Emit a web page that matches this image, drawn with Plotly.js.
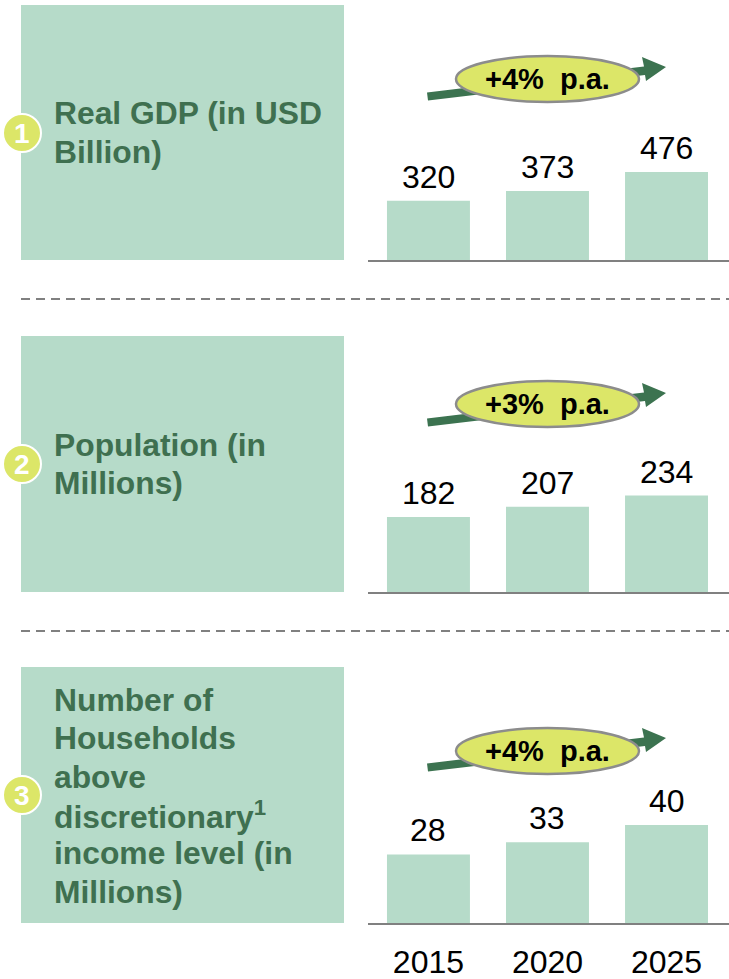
<!DOCTYPE html>
<html>
<head>
<meta charset="utf-8">
<script src="https://cdn.plot.ly/plotly-3.0.1.min.js"></script>
<style>html,body{margin:0;padding:0;background:#fff}#chart{width:729px;height:979px}</style>
</head>
<body>
<div id="chart"></div>
<script>
// Series values
const years = ['2015', '2020', '2025'];
const gdpValues = [320, 373, 476];
const populationValues = [182, 207, 234];
const householdValues = [28, 33, 40];

// Panel text
const gdpLines = ['Real GDP (in USD', 'Billion)'];
const populationLines = ['Population (in', 'Millions)'];
const householdLines = ['Number of', 'Households', 'above', 'discretionary<sup>1</sup>', 'income level (in', 'Millions)'];
const growthLabels = ['+4%  p.a.', '+3%  p.a.', '+4%  p.a.'];
const panelNumbers = ['1', '2', '3'];

// Page geometry in pixels
const W = 729, H = 979;
const GREEN_LIGHT = '#B6DBC9', GREEN_DARK = '#3F7050', ARROW = '#3C7350', LIME = '#DCE668', GREY = '#808080';
const FONT = '"Liberation Sans", Arial, sans-serif';
const px = x => x / W;
const py = y => 1 - y / H;

const panels = [
  {values: gdpValues,        lines: gdpLines,        boxTop: 5,   base: 260, perUnit: 0.185, lineY: [113, 152], badgeY: 133, ovalY: 79,  arrowDy: 0},
  {values: populationValues, lines: populationLines, boxTop: 336, base: 592, perUnit: 0.412, lineY: [445, 483], badgeY: 464, ovalY: 404, arrowDy: 326},
  {values: householdValues,  lines: householdLines,  boxTop: 667, base: 923, perUnit: 2.45,  lineY: [700, 738, 777, 815, 853, 892], badgeY: 795, ovalY: 751, arrowDy: 671}
];
const plotHeight = 180;

const traces = [], shapes = [], annotations = [];
const layout = {
  width: W, height: H, margin: {l: 0, r: 0, t: 0, b: 0},
  paper_bgcolor: '#fff', plot_bgcolor: 'rgba(0,0,0,0)',
  showlegend: false, bargap: 0.303, font: {family: FONT, color: '#000'}
};

panels.forEach((p, i) => {
  const n = i === 0 ? '' : String(i + 1);
  traces.push({
    type: 'bar', x: years, y: p.values, xaxis: 'x' + n, yaxis: 'y' + n,
    marker: {color: GREEN_LIGHT, line: {width: 0}}, hoverinfo: 'x+y'
  });
  const isLast = i === panels.length - 1;
  layout['xaxis' + n] = {
    domain: [px(368), 1], range: [-0.508, 2.525], type: 'category', anchor: 'y' + n,
    showline: true, linecolor: GREY, linewidth: 2, showgrid: false, zeroline: false,
    ticks: isLast ? 'outside' : '', ticklen: 10, tickcolor: 'rgba(0,0,0,0)',
    showticklabels: isLast, tickfont: {family: FONT, size: 32, color: '#000'}
  };
  layout['yaxis' + n] = {
    domain: [py(p.base), py(p.base - plotHeight)], range: [0, plotHeight / p.perUnit],
    anchor: 'x' + n, visible: false, showgrid: false, zeroline: false
  };

  // Value labels sit a fixed distance above their bars; x is the category index
  p.values.forEach((v, k) => annotations.push({
    xref: 'x' + n, yref: 'y' + n, x: k, y: v, text: String(v),
    showarrow: false, xanchor: 'center', yanchor: 'bottom', yshift: 4,
    font: {family: FONT, size: 32, color: '#000'}
  }));

  // Category box on the left
  shapes.push({type: 'rect', xref: 'paper', yref: 'paper', layer: 'below',
    x0: px(21), x1: px(344), y0: py(p.base), y1: py(p.boxTop),
    fillcolor: GREEN_LIGHT, line: {width: 0}});
  p.lines.forEach((t, k) => annotations.push({
    xref: 'paper', yref: 'paper', x: px(52), y: py(p.lineY[k]), text: t,
    showarrow: false, xanchor: 'left', yanchor: 'middle', align: 'left',
    font: {family: FONT, size: 31.8, color: GREEN_DARK, weight: 700}
  }));

  // Numbered badge on the box edge
  shapes.push({type: 'circle', xref: 'paper', yref: 'paper',
    x0: px(3), x1: px(41), y0: py(p.badgeY + 19), y1: py(p.badgeY - 19),
    fillcolor: LIME, line: {color: '#fff', width: 2}});
  annotations.push({xref: 'paper', yref: 'paper', x: px(22), y: py(p.badgeY), text: panelNumbers[i],
    showarrow: false, xanchor: 'center', yanchor: 'middle',
    font: {family: FONT, size: 28, color: '#fff', weight: 700}});

  // Growth arrow with the rate oval on top of it
  const d = p.arrowDy;
  const poly = [[427, 92.5], [644, 66.5], [642, 57], [666, 67], [646, 81], [645, 75], [428, 100.5]];
  shapes.push({type: 'path', xref: 'paper', yref: 'paper',
    path: 'M' + poly.map(c => px(c[0]) + ',' + py(c[1] + d)).join('L') + 'Z',
    fillcolor: ARROW, line: {width: 0}});
  shapes.push({type: 'circle', xref: 'paper', yref: 'paper',
    x0: px(456), x1: px(639), y0: py(p.ovalY + 23), y1: py(p.ovalY - 23),
    fillcolor: LIME, line: {color: '#8C8C8C', width: 2.5}});
  annotations.push({xref: 'paper', yref: 'paper', x: px(547), y: py(p.ovalY), text: growthLabels[i],
    showarrow: false, xanchor: 'center', yanchor: 'middle',
    font: {family: FONT, size: 29, color: '#000', weight: 700}});

  // Dashed separator under each panel except the last
  if (!isLast) shapes.push({type: 'line', xref: 'paper', yref: 'paper',
    x0: px(21), x1: 1, y0: py(p.base + 39), y1: py(p.base + 39),
    line: {color: GREY, width: 2, dash: '9px,6px'}});
});

layout.shapes = shapes;
layout.annotations = annotations;
Plotly.newPlot('chart', traces, layout, {displayModeBar: false, staticPlot: true});
</script>
</body>
</html>
